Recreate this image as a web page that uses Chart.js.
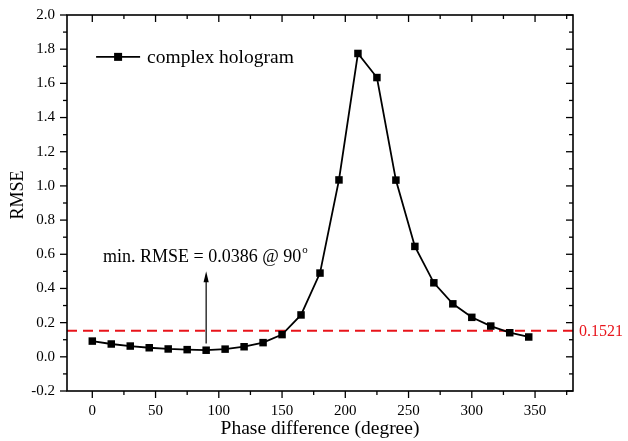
<!DOCTYPE html>
<html>
<head>
<meta charset="utf-8">
<script src="https://cdn.jsdelivr.net/npm/chart.js@4"></script>
<style>
  html, body { margin: 0; padding: 0; background: #fff; }
  #wrap { width: 628px; height: 441px; }
</style>
</head>
<body>
<div id="wrap"><canvas id="rmseChart"></canvas></div>
<script>
// fase (grados) y RMSE
const phase = [0, 15, 30, 45, 60, 75, 90, 105, 120, 135, 150, 165, 180, 195, 210, 225, 240, 255, 270, 285, 300, 315, 330, 345];
const rmse = [0.092, 0.075, 0.063, 0.053, 0.046, 0.042, 0.0386, 0.045, 0.059, 0.083, 0.13, 0.245, 0.49, 1.035, 1.775, 1.634, 1.034, 0.646, 0.433, 0.31, 0.231, 0.18, 0.141, 0.116];

const xTicks = [0, 50, 100, 150, 200, 250, 300, 350];
const yTicks = [-0.2, 0.0, 0.2, 0.4, 0.6, 0.8, 1.0, 1.2, 1.4, 1.6, 1.8, 2.0];
const xMinor = [25, 75, 125, 175, 225, 275, 325, 375];
const yMinor = [-0.1, 0.1, 0.3, 0.5, 0.7, 0.9, 1.1, 1.3, 1.5, 1.7, 1.9];

const umbral = 0.1521;
const minFase = 90;
const minValor = 0.0386;
const etiquetaSerie = 'complex hologram';
const etiquetaMin = 'min. RMSE = 0.0386 @ 90';

const SERIF = '"Liberation Serif", "DejaVu Serif", serif';

// Ticks: hacia fuera abajo/izquierda, hacia dentro arriba/derecha
const ticksEjes = {
  id: 'ticksEjes',
  afterDatasetsDraw(chart) {
    const { ctx, chartArea: a, scales: { x, y } } = chart;
    ctx.save();
    ctx.strokeStyle = '#000';
    ctx.lineWidth = 1.3;
    const linea = (x1, y1, x2, y2) => { ctx.beginPath(); ctx.moveTo(x1, y1); ctx.lineTo(x2, y2); ctx.stroke(); };
    xTicks.forEach(v => { const px = x.getPixelForValue(v); linea(px, a.bottom, px, a.bottom + 7); linea(px, a.top, px, a.top + 7); });
    xMinor.forEach(v => { const px = x.getPixelForValue(v); linea(px, a.bottom, px, a.bottom + 4); linea(px, a.top, px, a.top + 4); });
    yTicks.forEach(v => { const py = y.getPixelForValue(v); linea(a.left, py, a.left - 7, py); linea(a.right, py, a.right - 7, py); });
    yMinor.forEach(v => { const py = y.getPixelForValue(v); linea(a.left, py, a.left - 4, py); linea(a.right, py, a.right - 4, py); });
    ctx.lineWidth = 1.6;
    ctx.strokeRect(a.left, a.top, a.right - a.left, a.bottom - a.top);
    ctx.restore();
  }
};

// Leyenda, titulo del eje Y, flecha del minimo y etiqueta del umbral
const anotaciones = {
  id: 'anotaciones',
  afterDatasetsDraw(chart) {
    const { ctx, chartArea: a, scales: { x, y } } = chart;
    ctx.save();

    // titulo eje Y
    ctx.fillStyle = '#000';
    ctx.font = '18px ' + SERIF;
    ctx.textAlign = 'center';
    ctx.textBaseline = 'middle';
    ctx.translate(18, 195);
    ctx.rotate(-Math.PI / 2);
    ctx.fillText('RMSE', 0, 0);
    ctx.setTransform(1, 0, 0, 1, 0, 0);

    // leyenda
    const ly = y.getPixelForValue(1.755);
    const lx = x.getPixelForValue(3);
    ctx.strokeStyle = '#000';
    ctx.lineWidth = 1.8;
    ctx.beginPath(); ctx.moveTo(lx, ly); ctx.lineTo(lx + 44, ly); ctx.stroke();
    ctx.fillRect(lx + 22 - 4, ly - 4, 8, 8);
    ctx.font = '19.5px ' + SERIF;
    ctx.textAlign = 'left';
    ctx.fillText(etiquetaSerie, lx + 51, ly + 1);

    // flecha
    const ax = x.getPixelForValue(minFase);
    const ay0 = y.getPixelForValue(minValor + 0.04);
    const ay1 = y.getPixelForValue(0.5);
    ctx.lineWidth = 1.2;
    ctx.beginPath(); ctx.moveTo(ax, ay0); ctx.lineTo(ax, ay1 + 6); ctx.stroke();
    ctx.beginPath(); ctx.moveTo(ax, ay1); ctx.lineTo(ax - 2.6, ay1 + 11); ctx.lineTo(ax + 2.6, ay1 + 11); ctx.closePath(); ctx.fill();

    // texto del minimo
    ctx.font = '18px ' + SERIF;
    ctx.textBaseline = 'alphabetic';
    const ty = y.getPixelForValue(0.555);
    const tx = x.getPixelForValue(8.5);
    ctx.fillText(etiquetaMin, tx, ty);
    const w = ctx.measureText(etiquetaMin).width;
    ctx.font = '11px ' + SERIF;
    ctx.fillText('o', tx + w + 1, ty - 9);

    // etiqueta del umbral
    ctx.fillStyle = '#e8141b';
    ctx.font = '16px ' + SERIF;
    ctx.textBaseline = 'middle';
    ctx.fillText(umbral.toFixed(4), a.right + 6, y.getPixelForValue(umbral) + 1);
    ctx.restore();
  }
};

new Chart(document.getElementById('rmseChart'), {
  type: 'scatter',
  data: {
    datasets: [
      {
        label: 'umbral',
        data: [{ x: -20, y: umbral }, { x: 380, y: umbral }],
        showLine: true,
        borderColor: '#e8141b',
        borderWidth: 2,
        borderDash: [10, 6],
        pointRadius: 0,
        order: 2
      },
      {
        label: etiquetaSerie,
        data: phase.map((p, i) => ({ x: p, y: rmse[i] })),
        showLine: true,
        borderColor: '#000',
        borderWidth: 1.8,
        backgroundColor: '#000',
        pointStyle: 'rect',
        pointRadius: 5.3,
        pointBorderWidth: 0,
        tension: 0,
        order: 1
      }
    ]
  },
  options: {
    responsive: true,
    maintainAspectRatio: false,
    animation: false,
    layout: { padding: { left: 0, right: 55, top: 15, bottom: 0 } },
    plugins: {
      legend: { display: false },
      tooltip: { enabled: false }
    },
    scales: {
      x: {
        type: 'linear',
        min: -20,
        max: 380,
        afterBuildTicks: s => { s.ticks = xTicks.map(v => ({ value: v })); },
        afterFit: s => { s.height = 50; s.paddingLeft = 0; s.paddingRight = 0; },
        grid: { display: false, drawTicks: false },
        border: { display: false },
        ticks: { color: '#000', padding: 11, font: { family: SERIF, size: 15 }, maxRotation: 0 },
        title: { display: true, text: 'Phase difference (degree)', color: '#000', padding: { top: 0, bottom: 0 }, font: { family: SERIF, size: 19.5 } }
      },
      y: {
        min: -0.2,
        max: 2.0,
        afterBuildTicks: s => { s.ticks = yTicks.map(v => ({ value: v })); },
        afterFit: s => { s.width = 67; s.paddingTop = 0; s.paddingBottom = 0; },
        grid: { display: false, drawTicks: false },
        border: { display: false },
        ticks: { color: '#000', padding: 12, font: { family: SERIF, size: 15 }, callback: v => v.toFixed(1) }
      }
    }
  },
  plugins: [ticksEjes, anotaciones]
});
</script>
</body>
</html>
